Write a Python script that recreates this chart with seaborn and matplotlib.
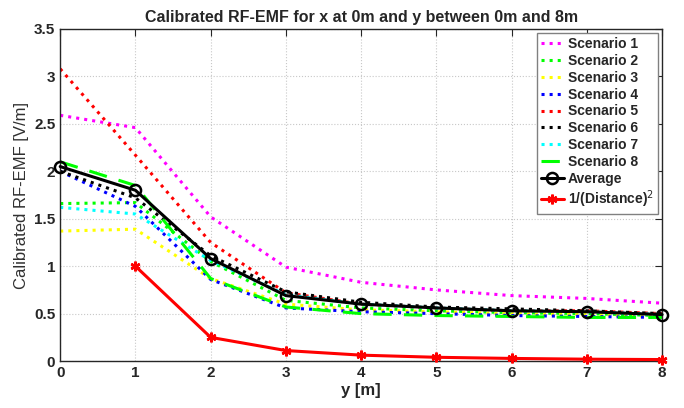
import numpy as np
import pandas as pd
import seaborn as sns
from matplotlib import pyplot as plt
from matplotlib.ticker import FormatStrFormatter

# y positions [m]
y_pos = [0, 1, 2, 3, 4, 5, 6, 7, 8]

# calibrated RF-EMF per scenario [V/m]
scenario_1 = [2.59, 2.46, 1.52, 0.99, 0.83, 0.75, 0.69, 0.66, 0.61]
scenario_2 = [1.66, 1.67, 1.05, 0.64, 0.56, 0.53, 0.51, 0.50, 0.48]
scenario_3 = [1.37, 1.39, 0.87, 0.60, 0.54, 0.52, 0.50, 0.49, 0.47]
scenario_4 = [2.00, 1.63, 0.86, 0.56, 0.52, 0.50, 0.48, 0.47, 0.46]
scenario_5 = [3.08, 2.17, 1.25, 0.72, 0.60, 0.56, 0.53, 0.53, 0.50]
scenario_6 = [2.00, 1.72, 1.11, 0.73, 0.62, 0.57, 0.55, 0.53, 0.50]
scenario_7 = [1.62, 1.55, 1.06, 0.70, 0.60, 0.56, 0.53, 0.52, 0.49]
scenario_8 = [2.10, 1.85, 0.87, 0.57, 0.50, 0.48, 0.47, 0.46, 0.46]
average = [2.05, 1.80, 1.08, 0.69, 0.60, 0.56, 0.53, 0.52, 0.49]

# 1/(distance)^2 reference
dist_pos = [1, 2, 3, 4, 5, 6, 7, 8]
inv_sq = [1.0, 0.25, 0.111, 0.0625, 0.04, 0.028, 0.020, 0.016]

scenarios = [scenario_1, scenario_2, scenario_3, scenario_4,
             scenario_5, scenario_6, scenario_7]
colors = ['#ff00ff', '#00ff00', '#ffff00', '#0000ff', '#ff0000', '#000000', '#00ffff']

sns.set_style("whitegrid")
plt.rcParams['font.family'] = ['Liberation Sans', 'DejaVu Sans']

fig, ax = plt.subplots(figsize=(6.84, 4.08), dpi=100)
fig.subplots_adjust(left=0.088, right=0.968, top=0.929, bottom=0.115)

for i, (vals, c) in enumerate(zip(scenarios, colors)):
    sns.lineplot(x=y_pos, y=vals, ax=ax, color=c, linestyle=':', linewidth=2.2,
                 label='Scenario %d' % (i + 1))
sns.lineplot(x=y_pos, y=scenario_8, ax=ax, color='#00ff00', linewidth=2.2,
             linestyle=(0, (6, 4)), label='Scenario 8')
sns.lineplot(x=y_pos, y=average, ax=ax, color='black', linewidth=2.2,
             marker='o', markersize=8, markerfacecolor='none',
             markeredgecolor='black', markeredgewidth=1.8, label='Average',
             clip_on=False, zorder=5)
sns.lineplot(x=dist_pos, y=inv_sq, ax=ax, color='red', linewidth=2.2,
             marker=(6, 2, 0), markersize=7, markeredgewidth=1.8,
             markeredgecolor='red', markerfacecolor='red',
             label='1/(Distance)$^2$', clip_on=False, zorder=5)

ax.set_xlim(0, 8)
ax.set_ylim(0, 3.5)
ax.set_xticks(range(0, 9))
ax.set_yticks(np.arange(0, 3.51, 0.5))
ax.yaxis.set_major_formatter(FormatStrFormatter('%g'))
ax.grid(True, color='#c8c8c8', linestyle=':', linewidth=0.8)
for s in ax.spines.values():
    s.set_color('#262626')
    s.set_linewidth(1.0)
ax.tick_params(direction='in', length=5, top=True, right=True,
               labelsize=11, colors='#262626', width=0.8)
for lab in ax.get_xticklabels() + ax.get_yticklabels():
    lab.set_fontweight('bold')

ax.set_title('Calibrated RF-EMF for x at 0m and y between 0m and 8m',
             fontsize=11.5, fontweight='bold', pad=5)
ax.set_xlabel('y [m]', fontsize=12, fontweight='bold', labelpad=2)
ax.set_ylabel('Calibrated RF-EMF [V/m]', fontsize=12, labelpad=4,
              color='#303030')

leg = ax.legend(loc='upper right', fontsize=10, frameon=True, fancybox=False,
                handlelength=1.6, handletextpad=0.3, labelspacing=0.2,
                borderpad=0.3, borderaxespad=0.3, edgecolor='#808080',
                framealpha=1)
leg.set_zorder(10)
for t in leg.get_texts():
    t.set_fontweight('bold')

plt.savefig('out.png', dpi=100)
plt.close()
